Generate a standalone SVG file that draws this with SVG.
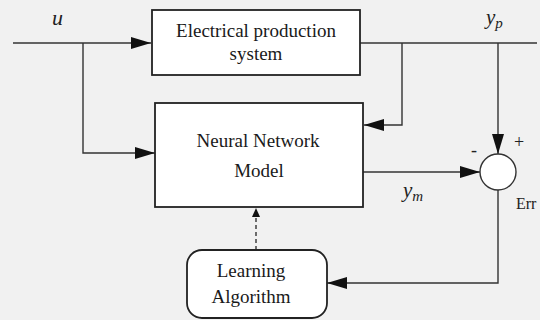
<svg xmlns="http://www.w3.org/2000/svg" width="540" height="320" viewBox="0 0 540 320">
  <defs>
    <marker id="arr" markerUnits="userSpaceOnUse" markerWidth="20" markerHeight="12" refX="20" refY="6" orient="auto">
      <path d="M0,0 L20,6 L0,12 Z" fill="#111"/>
    </marker>
    <marker id="arrs" markerUnits="userSpaceOnUse" markerWidth="9" markerHeight="8" refX="9" refY="4" orient="auto">
      <path d="M0,0 L9,4 L0,8 Z" fill="#111"/>
    </marker>
    <style>
      .box { fill: #ffffff; stroke: #222; stroke-width: 1.8; }
      .ln { fill: none; stroke: #333; stroke-width: 1.4; }
      .t { font-family: "Liberation Serif", "Times New Roman", serif; font-size: 19px; fill: #1a1a1a; text-anchor: middle; }
      .it { font-family: "Liberation Serif", "Times New Roman", serif; font-style: italic; fill: #222; }
      .s { font-family: "Liberation Serif", "Times New Roman", serif; fill: #222; }
    </style>
  </defs>
  <rect x="0" y="0" width="540" height="320" fill="#f1f1f1"/>

  <g id="connectors">
    <path class="ln" d="M13,43 H151" marker-end="url(#arr)"/>
    <path class="ln" d="M83,43 V153 H155" marker-end="url(#arr)"/>
    <path class="ln" d="M360,43 H537"/>
    <path class="ln" d="M402,43 V125 H364" marker-end="url(#arr)"/>
    <path class="ln" d="M498,43 V154" marker-end="url(#arr)"/>
    <path class="ln" d="M363,172 H480" marker-end="url(#arr)"/>
    <path class="ln" d="M498,190 V283 H327" marker-end="url(#arr)"/>
    <path class="ln" d="M256,250 V208" stroke-dasharray="4,3" marker-end="url(#arrs)"/>
  </g>

  <g id="label-u"><text class="it" x="52" y="25" font-size="22">u</text></g>
  <g id="label-yp"><text class="it" x="486" y="24" font-size="21">y<tspan font-size="15" dy="4">p</tspan></text></g>
  <g id="label-ym"><text class="it" x="403" y="197" font-size="21">y<tspan font-size="15" dy="4">m</tspan></text></g>

  <g id="plant">
    <rect class="box" x="152" y="10" width="208" height="65"/>
    <text class="t" x="256" y="37">Electrical production</text>
    <text class="t" x="256" y="60">system</text>
  </g>

  <g id="nn-model">
    <rect class="box" x="155" y="103" width="208" height="104" stroke-width="1.5"/>
    <text class="t" x="258" y="147">Neural Network</text>
    <text class="t" x="259" y="177">Model</text>
  </g>

  <g id="learning">
    <rect class="box" x="187" y="250" width="140" height="68" rx="15" ry="15" stroke-width="1.4"/>
    <text class="t" x="251" y="277">Learning</text>
    <text class="t" x="251" y="303">Algorithm</text>
  </g>

  <g id="summer">
    <circle cx="498" cy="172" r="18" fill="#ffffff" stroke="#333" stroke-width="1.4"/>
    <text class="s" x="519" y="148" font-size="18" text-anchor="middle">+</text>
    <text class="s" x="474" y="156" font-size="18" text-anchor="middle">-</text>
    <text class="s" x="516" y="209" font-size="16">Err</text>
  </g>
</svg>
